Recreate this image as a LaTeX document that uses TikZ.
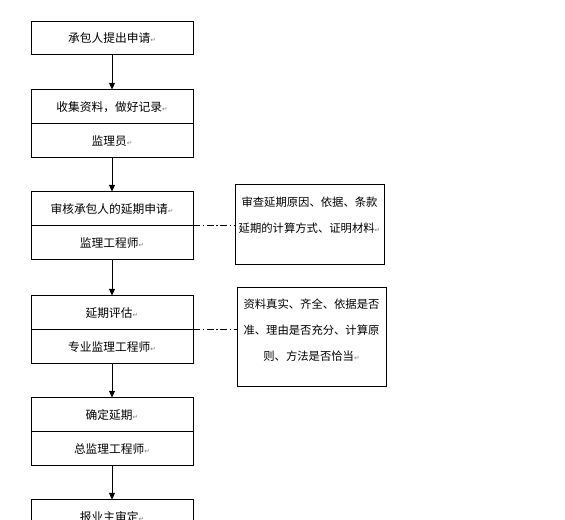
\documentclass[tikz,border=0pt]{standalone}
\usepackage{fontspec}
\newfontfamily\cjk{Noto Sans CJK SC}
\newfontfamily\symfont{DejaVu Sans}
\usetikzlibrary{arrows.meta}
\newcommand{\ret}{{\symfont\fontsize{5}{5}\selectfont\textcolor{gray}{↵}}}

\begin{document}
\begin{tikzpicture}[x=0.75pt,y=-0.75pt,
  font=\cjk\fontsize{8.8}{10}\selectfont,
  cell/.style={draw,line width=0.75pt,minimum width=121.5pt,minimum height=25.5pt,inner sep=0pt},
  note/.style={draw,line width=0.75pt,minimum width=111.75pt,inner sep=0pt},
  notetext/.style={align=center,inner sep=0pt,font=\cjk\fontsize{8.5}{19.5}\selectfont},
  flow/.style={-{Triangle[length=5pt,width=4.5pt]},line width=0.75pt},
  link/.style={line width=0.6pt,dash pattern=on 5pt off 2pt on 1pt off 2pt}]
  \clip (0,0) rectangle (565,520);
  \fill[white] (0,0) rectangle (565,520);
  \node[cell,minimum height=24.75pt] (apply) at (112,38.5) {承包人提出申请\ret};
  \node[cell] (collect) at (112,107) {收集资料，做好记录\ret};
  \node[cell] (super) at (112,141) {监理员\ret};
  \node[cell] (review) at (112,209) {审核承包人的延期申请\ret};
  \node[cell] (engr) at (112,243) {监理工程师\ret};
  \node[cell] (assess) at (112,313) {延期评估\ret};
  \node[cell] (spec) at (112,347) {专业监理工程师\ret};
  \node[cell] (fix) at (112,415) {确定延期\ret};
  \node[cell] (chief) at (112,449) {总监理工程师\ret};
  \node[cell] (owner) at (112,517) {报业主审定\ret};
  \node[cell] (ownerb) at (112,551) {};
  \node[note,minimum height=60pt] (chk) at (309.5,225) {};
  \node[notetext] at (309.5,215) {审查延期原因、依据、条款\\延期的计算方式、证明材料\ret};
  \node[note,minimum height=74.25pt] (eval) at (311.5,337.5) {};
  \node[notetext] at (311.5,330) {资料真实、齐全、依据是否\\准、理由是否充分、计算原\\则、方法是否恰当\ret};
  \draw[flow] (apply) -- (collect);
  \draw[flow] (super) -- (review);
  \draw[flow] (engr) -- (assess);
  \draw[flow] (spec) -- (fix);
  \draw[flow] (chief) -- (owner);
  \draw[link] (engr.north east) -- (engr.north east -| chk.west);
  \draw[link] (spec.north east) -- (spec.north east -| eval.west);
\end{tikzpicture}
\end{document}
